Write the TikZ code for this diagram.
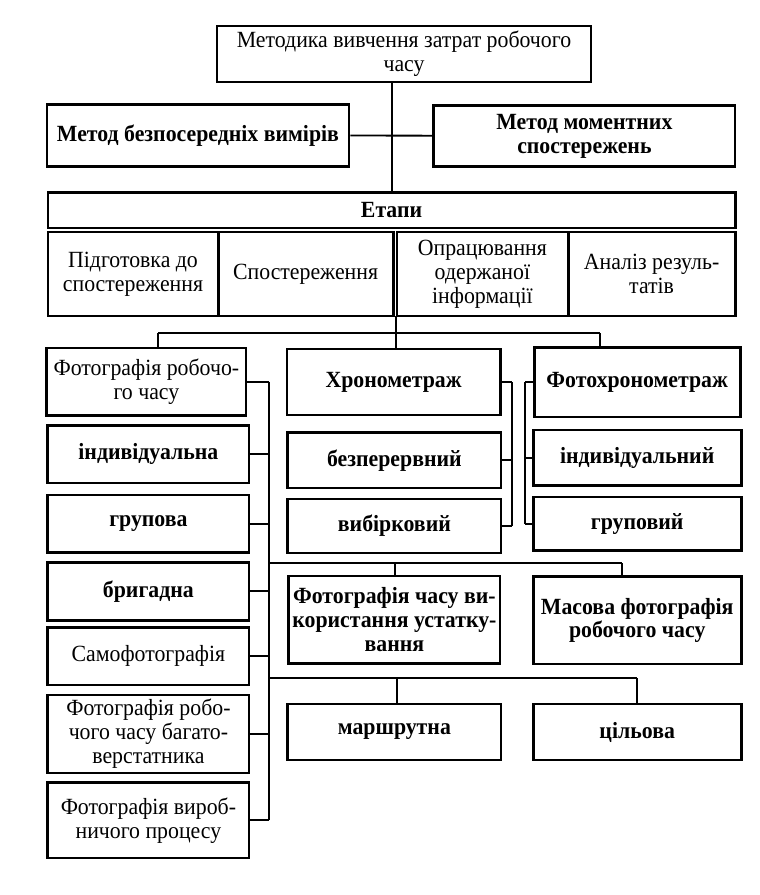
\documentclass[tikz,border=0pt]{standalone}
\usepackage{fontspec}
\setmainfont[FakeStretch=0.94]{Liberation Serif}
\usetikzlibrary{positioning}
\begin{document}
\begin{tikzpicture}
		\tikzstyle{box} = [draw, line width=2pt, inner sep=1pt, align=center, font=\fontsize{16.5}{17}\selectfont]
		\tikzstyle{bbox} = [box, font=\fontsize{16.5}{17}\selectfont\bfseries]
		\tikzstyle{invisible} = [outer sep=0,inner sep=0,minimum size=0]
		\tikzstyle{link} = [draw, line width=1.3pt]
		\useasboundingbox (0,0) rectangle (19,-22.375);
		% top part
		\node [box, minimum width=9.35cm, minimum height=1.4cm] (v1) at (10.1,-1.35) {Методика вивчення затрат робочого\\часу};
		\node [bbox, minimum width=7.55cm, minimum height=1.55cm] (v2) at (4.95,-3.38) {Метод безпосередніх вимірів};
		\node [bbox, minimum width=7.53cm, minimum height=1.53cm] (v3) at (14.61,-3.4) {Метод моментних\\спостережень};
		\node [bbox, minimum width=17.18cm, minimum height=0.88cm] (v4) at (9.79,-5.26) {Етапи};
		\node [box, minimum width=4.25cm, minimum height=2.1cm] (v5) at (3.325,-6.85) {Підготовка до\\спостереження};
		\node [box, minimum width=4.375cm, minimum height=2.1cm] (v6) at (7.64,-6.85) {Спостереження};
		\node [box, minimum width=4.275cm, minimum height=2.1cm] (v7) at (12.06,-6.85) {Опрацювання\\одержаної\\інформації};
		\node [box, minimum width=4.175cm, minimum height=2.1cm] (v8) at (16.29,-6.85) {Аналіз резуль-\\татів};
		\node [invisible] (j1) at (9.8,-2.05) {};
		\node [invisible] (j2) at (9.8,-3.39) {};
		\node [invisible] (j3) at (9.8,-4.82) {};
		\draw [link] (j1) edge (j3);
		\draw [link] (v2) edge (j2);
		\draw [link] (j2) edge (v3);
		% second level
		\node [box, minimum width=4.98cm, minimum height=1.68cm] (v9) at (3.66,-9.54) {Фотографія робочо-\\го часу};
		\node [bbox, minimum width=5.33cm, minimum height=1.65cm] (v10) at (9.84,-9.55) {Хронометраж};
		\node [bbox, minimum width=5.15cm, minimum height=1.73cm] (v11) at (15.93,-9.56) {Фотохронометраж};
		\node [invisible] (j4) at (9.9,-7.9) {};
		\node [invisible] (j5) at (9.9,-8.325) {};
		\node [invisible] (j6) at (3.95,-8.325) {};
		\node [invisible] (j7) at (15.0,-8.325) {};
		\draw [link] (j4) edge (j5);
		\draw [link] (j6) edge (j7);
		\draw [link] (j6) -- (j6 |- v9.north);
		\draw [link] (j5) -- (j5 |- v10.north);
		\draw [link] (j7) -- (j7 |- v11.north);
		% left column
		\node [bbox, minimum width=5.03cm, minimum height=1.43cm] (v12) at (3.71,-11.36) {індивідуальна};
		\node [bbox, minimum width=5.03cm, minimum height=1.43cm] (v13) at (3.71,-13.09) {групова};
		\node [bbox, minimum width=5.03cm, minimum height=1.45cm] (v14) at (3.71,-14.78) {бригадна};
		\node [box, minimum width=5.03cm, minimum height=1.43cm] (v15) at (3.71,-16.41) {Самофотографія};
		\node [box, minimum width=5.03cm, minimum height=1.95cm] (v16) at (3.71,-18.35) {Фотографія робо-\\чого часу багато-\\верстатника};
		\node [box, minimum width=5.03cm, minimum height=1.88cm] (v17) at (3.71,-20.51) {Фотографія вироб-\\ничого процесу};
		\node [invisible] (j8) at (6.725,-9.54) {};
		\node [invisible] (j9) at (6.725,-20.51) {};
		\draw [link] (v9) edge (j8);
		\draw [link] (j8) edge (j9);
		\draw [link] (j9) edge (v17);
		\foreach \b in {v12,v13,v14,v15,v16}
			\draw [link] (\b) -- (\b -| j8);
		% middle column
		\node [bbox, minimum width=5.33cm, minimum height=1.38cm] (v18) at (9.86,-11.51) {безперервний};
		\node [bbox, minimum width=5.33cm, minimum height=1.35cm] (v19) at (9.86,-13.15) {вибірковий};
		\node [invisible] (j14) at (12.8,-9.55) {};
		\node [invisible] (j15) at (12.8,-13.15) {};
		\draw [link] (v10) edge (j14);
		\draw [link] (j14) edge (j15);
		\draw [link] (j15) edge (v19);
		\draw [link] (v18) -- (v18 -| j14);
		% right column
		\node [bbox, minimum width=5.2cm, minimum height=1.38cm] (v22) at (15.93,-11.44) {індивідуальний};
		\node [bbox, minimum width=5.2cm, minimum height=1.33cm] (v23) at (15.93,-13.09) {груповий};
		\node [invisible] (j16) at (13.125,-9.56) {};
		\node [invisible] (j17) at (13.125,-13.09) {};
		\draw [link] (v11) edge (j16);
		\draw [link] (j16) edge (j17);
		\draw [link] (j17) edge (v23);
		\draw [link] (v22) -- (v22 -| j16);
		% lower part
		\node [bbox, minimum width=5.28cm, minimum height=2.18cm] (v20) at (9.86,-15.49) {Фотографія часу ви-\\користання устатку-\\вання};
		\node [bbox, minimum width=5.2cm, minimum height=2.18cm] (v24) at (15.93,-15.51) {Масова фотографія\\робочого часу};
		\node [bbox, minimum width=5.33cm, minimum height=1.4cm] (v21) at (9.86,-18.3) {маршрутна};
		\node [bbox, minimum width=5.2cm, minimum height=1.4cm] (v25) at (15.93,-18.3) {цільова};
		\node [invisible] (j10) at (6.725,-14.075) {};
		\node [invisible] (j11) at (15.55,-14.075) {};
		\node [invisible] (j18) at (9.875,-14.075) {};
		\node [invisible] (j12) at (6.725,-16.95) {};
		\node [invisible] (j13) at (15.925,-16.95) {};
		\node [invisible] (j19) at (9.925,-16.95) {};
		\draw [link] (j10) edge (j11);
		\draw [link] (j18) -- (j18 |- v20.north);
		\draw [link] (j11) -- (j11 |- v24.north);
		\draw [link] (j12) edge (j13);
		\draw [link] (j19) -- (j19 |- v21.north);
		\draw [link] (j13) -- (j13 |- v25.north);
\end{tikzpicture}
\end{document}
